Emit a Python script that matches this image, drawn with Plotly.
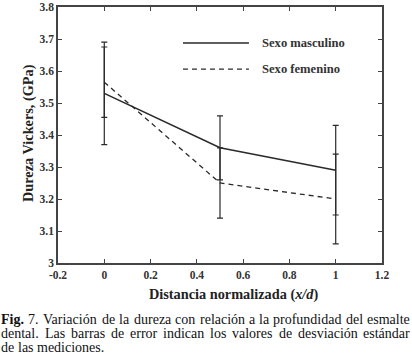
import re
import plotly.graph_objects as go

x_vals = [0, 0.5, 1]
male = [3.53, 3.36, 3.29]
male_err = [0.16, 0.10, 0.14]
female = [3.565, 3.25, 3.20]
female_err = [0.11, 0.11, 0.14]

x_ticks = [-0.2, 0, 0.2, 0.4, 0.6, 0.8, 1, 1.2]
x_ticktext = ["-0.2", "0", "0.2", "0.4", "0.6", "0.8", "1", "1.2"]
y_ticks = [3, 3.1, 3.2, 3.3, 3.4, 3.5, 3.6, 3.7, 3.8]
y_ticktext = ["3", "3.1", "3.2", "3.3", "3.4", "3.5", "3.6", "3.7", "3.8"]

names = ["Sexo masculino", "Sexo femenino"]
caption_lines = [
    "<b>Fig.</b> 7. Variación de la dureza con relación a la profundidad del esmalte",
    "dental. Las barras de error indican los valores de desviación estándar",
    "de las mediciones.",
]
caption_justify = [True, True, False]
cap_y_px = [319, 333, 347]
CAP_SIZE = 14.0
CAP_LEFT, CAP_RIGHT = 1, 410

PL, PR, PT, PB = 58, 382, 7, 263


def px_x(p):
    return (p - PL) / (PR - PL)


def px_y(p):
    return (PB - p) / (PB - PT)


# Times-compatible advance widths (1/1000 em) for text layout (justification)
W_REG = dict(zip("abcdefghijklmnopqrstuvwxyz", [444, 500, 444, 500, 444, 333, 500, 500, 278, 278, 500, 278,
                                               778, 500, 500, 500, 500, 333, 389, 278, 500, 500, 722, 500, 500, 444]))
W_REG.update({" ": 250, ".": 250, ",": 250, "F": 556, "L": 611, "V": 722, "á": 444, "é": 444, "ó": 500, "7": 500})
W_BOLD = {"F": 611, "i": 278, "g": 500, ".": 250}


def word_width(word, size):
    total = 0
    for part in re.split(r"(<b>.*?</b>)", word):
        if part.startswith("<b>"):
            total += sum(W_BOLD.get(c, 556) for c in part[3:-4])
        else:
            total += sum(W_REG.get(c, 500) for c in part)
    return total * size / 1000.0


ink = "#2a2a2a"
serif = "'Liberation Serif', 'Times New Roman', Times, 'DejaVu Serif', serif"
DASH = "5px,4px"

fig = go.Figure()
fig.add_trace(go.Scatter(
    x=x_vals, y=male, mode="lines", name=names[0],
    line=dict(color=ink, width=1.6),
    error_y=dict(type="data", array=male_err, visible=True, color=ink, thickness=1.2, width=3),
))
fig.add_trace(go.Scatter(
    x=x_vals, y=female, mode="lines", name=names[1],
    line=dict(color=ink, width=1.3, dash=DASH),
    error_y=dict(type="data", array=female_err, visible=True, color=ink, thickness=1.2, width=3),
))

# legend drawn manually
leg_y = [3.6875, 3.606]
for i, (nm, yy) in enumerate(zip(names, leg_y)):
    fig.add_shape(type="line", xref="x", yref="y", x0=0.34, x1=0.625, y0=yy, y1=yy,
                  line=dict(color=ink, width=1.6 if i == 0 else 1.3, dash="solid" if i == 0 else DASH))
    fig.add_annotation(x=0.673, y=yy, xref="x", yref="y", text="<b>" + nm + "</b>",
                       showarrow=False, xanchor="left", yanchor="middle",
                       font=dict(family=serif, size=12.6, color="#333"))

fig.add_annotation(x=px_x(28), y=px_y(133), xref="paper", yref="paper",
                   text="<b>Dureza Vickers, (GPa)</b>",
                   textangle=-90, showarrow=False, xanchor="center", yanchor="middle",
                   font=dict(family=serif, size=14.3, color="#222"))
fig.add_annotation(x=px_x(233), y=px_y(294), xref="paper", yref="paper",
                   text="<b>Distancia normalizada (<i>x/d</i>)</b>",
                   showarrow=False, xanchor="center", yanchor="middle",
                   font=dict(family=serif, size=14.3, color="#222"))

# justified caption
for line, just, yy in zip(caption_lines, caption_justify, cap_y_px):
    words = line.split(" ")
    widths = [word_width(w, CAP_SIZE) for w in words]
    if just and len(words) > 1:
        gap = (CAP_RIGHT - CAP_LEFT - sum(widths)) / (len(words) - 1)
    else:
        gap = 0.25 * CAP_SIZE
    xpos = CAP_LEFT
    for w, wd in zip(words, widths):
        fig.add_annotation(x=px_x(xpos), y=px_y(yy), xref="paper", yref="paper", text=w,
                           showarrow=False, xanchor="left", yanchor="middle",
                           borderpad=0, borderwidth=0,
                           font=dict(family=serif, size=CAP_SIZE, color="#111"))
        xpos += wd + gap

axis_common = dict(showgrid=False, zeroline=False, showline=True, linecolor="#444", linewidth=1.5,
                   mirror="ticks", ticks="inside", ticklen=4, tickcolor="#444", tickwidth=1.2,
                   automargin=False,
                   tickfont=dict(family=serif, size=11.5, color="#333"))
fig.update_xaxes(range=[-0.2, 1.2], tickvals=x_ticks, ticktext=["<b>%s</b>" % t for t in x_ticktext],
                 **axis_common)
fig.update_yaxes(range=[3.0, 3.8], tickvals=y_ticks, ticktext=["<b>%s</b>" % t for t in y_ticktext],
                 **axis_common)

fig.update_layout(width=412, height=359, margin=dict(l=PL, r=412 - PR, t=PT, b=359 - PB),
                  font=dict(family=serif),
                  paper_bgcolor="white", plot_bgcolor="white", showlegend=False)

fig.write_html("out.html", config={"displayModeBar": False},
               post_script="document.body.style.margin='0';document.body.style.overflow='hidden';")
